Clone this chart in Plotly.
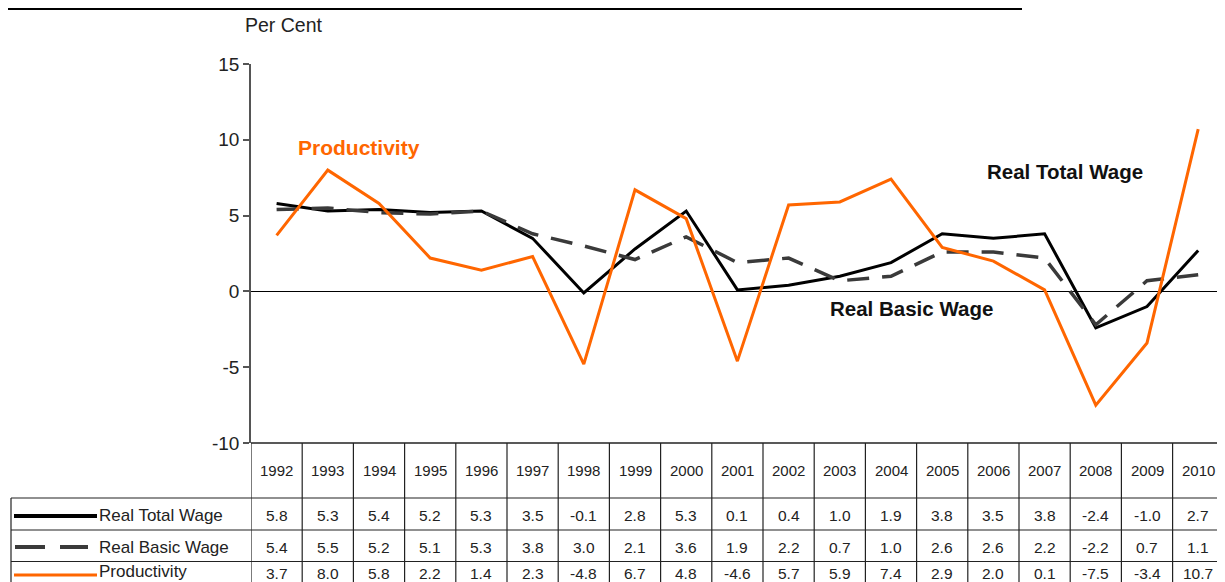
import plotly.graph_objects as go

years = ["1992", "1993", "1994", "1995", "1996", "1997", "1998", "1999", "2000", "2001",
         "2002", "2003", "2004", "2005", "2006", "2007", "2008", "2009", "2010"]
real_total_wage = [5.8, 5.3, 5.4, 5.2, 5.3, 3.5, -0.1, 2.8, 5.3, 0.1, 0.4, 1.0, 1.9, 3.8, 3.5, 3.8, -2.4, -1.0, 2.7]
real_basic_wage = [5.4, 5.5, 5.2, 5.1, 5.3, 3.8, 3.0, 2.1, 3.6, 1.9, 2.2, 0.7, 1.0, 2.6, 2.6, 2.2, -2.2, 0.7, 1.1]
productivity = [3.7, 8.0, 5.8, 2.2, 1.4, 2.3, -4.8, 6.7, 4.8, -4.6, 5.7, 5.9, 7.4, 2.9, 2.0, 0.1, -7.5, -3.4, 10.7]
series_names = ["Real Total Wage", "Real Basic Wage", "Productivity"]
y_ticks = [-10, -5, 0, 5, 10, 15]

# page offset of the figure (body margin) and visible right edge
OX, OY = 8, 8
RIGHT = 1217
W, H = RIGHT - OX, 582 - OY
FONT = "Liberation Sans, Arial, Helvetica, sans-serif"
ORANGE = "#FF6600"
DASHC = "#3a3a3a"


def px(t):
    return (t - OX) / W


def py(t):
    return 1 - (t - OY) / H


idx = list(range(len(years)))

fig = go.Figure()
fig.add_trace(go.Scatter(x=idx, y=real_total_wage, mode="lines", name=series_names[0],
                         line=dict(color="black", width=3)))
fig.add_trace(go.Scatter(x=idx, y=real_basic_wage, mode="lines", name=series_names[1],
                         line=dict(color=DASHC, width=3.5, dash="22px,13px")))
fig.add_trace(go.Scatter(x=idx, y=productivity, mode="lines", name=series_names[2],
                         line=dict(color=ORANGE, width=3)))

plot_left, plot_top, plot_bottom = 251, 64, 443
col_w = 51.2
x_max = (RIGHT - plot_left) / col_w - 0.5

fig.update_layout(
    template="none",
    width=W, height=H,
    autosize=False,
    margin=dict(l=0, r=0, t=0, b=0, pad=0, autoexpand=False),
    paper_bgcolor="white", plot_bgcolor="white",
    showlegend=False,
    font=dict(family=FONT, color="#222"),
    xaxis=dict(domain=[px(plot_left), 1], range=[-0.5, x_max], showticklabels=False,
               showgrid=False, zeroline=False, showline=False, ticks="", automargin=False),
    yaxis=dict(domain=[py(plot_bottom), py(plot_top)], range=[-10, 15],
               tickvals=y_ticks, ticktext=[str(v) for v in y_ticks],
               showgrid=False, zeroline=True, zerolinecolor="black", zerolinewidth=1,
               showline=True, linecolor="#555", linewidth=1.5, automargin=False,
               ticks="outside", ticklen=6, tickcolor="#555", tickwidth=1.5,
               tickfont=dict(size=19, color="#222", family=FONT)),
)

shapes = []
line_col = "#222"
# top rule
shapes.append(dict(type="line", xref="paper", yref="paper", x0=0, x1=px(1022), y0=py(9), y1=py(9),
                   line=dict(color="black", width=2)))
# table top (plot bottom)
shapes.append(dict(type="line", xref="paper", yref="paper", x0=px(plot_left), x1=1,
                   y0=py(plot_bottom), y1=py(plot_bottom), line=dict(color=line_col, width=1.5)))
# row lines
row_lines = [498, 530, 561.5]
for r in row_lines:
    shapes.append(dict(type="line", xref="paper", yref="paper", x0=px(11), x1=1, y0=py(r), y1=py(r),
                       line=dict(color=line_col, width=1.2)))
# left border of legend rows
shapes.append(dict(type="line", xref="paper", yref="paper", x0=px(11), x1=px(11), y0=py(498), y1=0,
                   line=dict(color=line_col, width=1.2)))
# column lines
for k in range(len(years) + 1):
    shapes.append(dict(type="line", xref="x", yref="paper", x0=k - 0.5, x1=k - 0.5,
                       y0=py(plot_bottom), y1=0, line=dict(color=line_col, width=1.2)))
# legend samples
shapes.append(dict(type="line", xref="paper", yref="paper", x0=px(14), x1=px(97), y0=py(516), y1=py(516),
                   line=dict(color="black", width=4)))
shapes.append(dict(type="line", xref="paper", yref="paper", x0=px(15), x1=px(45), y0=py(547), y1=py(547),
                   line=dict(color=DASHC, width=4)))
shapes.append(dict(type="line", xref="paper", yref="paper", x0=px(60), x1=px(88), y0=py(547), y1=py(547),
                   line=dict(color=DASHC, width=4)))
shapes.append(dict(type="line", xref="paper", yref="paper", x0=px(14), x1=px(97), y0=py(575), y1=py(575),
                   line=dict(color=ORANGE, width=3)))
fig.update_layout(shapes=shapes)

ann = []
ann.append(dict(text="Per Cent", xref="paper", yref="paper", x=px(243), y=py(25), xanchor="left",
                yanchor="middle", showarrow=False, font=dict(size=19.5, color="#222", family=FONT)))
for i, yr in enumerate(years):
    ann.append(dict(text=yr, xref="x", yref="paper", x=i, y=py(470), xanchor="center", yanchor="middle",
                    showarrow=False, font=dict(size=15, color="#222", family=FONT)))
row_centers = [516, 547, 573]
for vals, yc in zip([real_total_wage, real_basic_wage, productivity], row_centers):
    for i, v in enumerate(vals):
        ann.append(dict(text=f"{v:.1f}", xref="x", yref="paper", x=i, y=py(yc), xanchor="center",
                        yanchor="middle", showarrow=False, font=dict(size=15.5, color="#222", family=FONT)))
legend_centers = [516, 547, 571]
for name, yc in zip(series_names, legend_centers):
    ann.append(dict(text=name, xref="paper", yref="paper", x=px(97), y=py(yc), xanchor="left",
                    yanchor="middle", showarrow=False, font=dict(size=17, color="#222", family=FONT)))
ann.append(dict(text="<b>Productivity</b>", xref="x", yref="y", x=1.61, y=9.5, showarrow=False,
                font=dict(size=21, color=ORANGE, family=FONT)))
ann.append(dict(text="<b>Real Total Wage</b>", xref="x", yref="y", x=15.4, y=7.94, showarrow=False,
                font=dict(size=20.5, color="#111", family=FONT)))
ann.append(dict(text="<b>Real Basic Wage</b>", xref="x", yref="y", x=12.4, y=-1.16, showarrow=False,
                font=dict(size=20.5, color="#111", family=FONT)))
fig.update_layout(annotations=ann)

fig.write_html("out.html")
